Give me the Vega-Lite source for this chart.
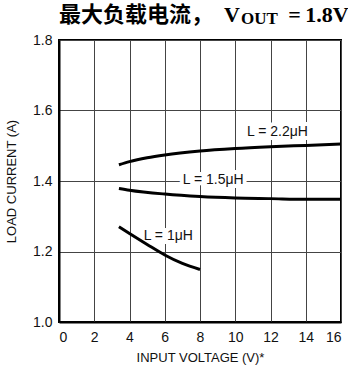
{
  "$schema": "https://vega.github.io/schema/vega-lite/v6.json",
  "width": 282,
  "height": 282,
  "autosize": {"type": "none"},
  "padding": {"left": 59, "top": 40, "right": 7, "bottom": 51},
  "background": "white",
  "config": {
    "view": {"stroke": "black", "strokeWidth": 2},
    "font": "Liberation Sans",
    "axis": {
      "ticks": false,
      "domainColor": "black",
      "domainWidth": 2,
      "gridColor": "#444",
      "gridWidth": 1,
      "gridOpacity": 1,
      "labelOverlap": false,
      "labelFont": "Liberation Sans",
      "labelFontSize": 14,
      "labelColor": "#111",
      "titleFont": "Liberation Sans",
      "titleFontSize": 13,
      "titleFontWeight": "normal",
      "titleColor": "#111"
    }
  },
  "title": {
    "text": "最大负载电流，\u2002V\u2003\u2003\u2009=\u20091.8V",
    "subtitle": "\u200b\u2003\u2003\u2003\u2003\u2003\u2003\u2003\u2003\u2003\u2003\u2002\u2009OUT",
    "anchor": "start",
    "frame": "group",
    "font": "Liberation Serif, Noto Sans CJK SC",
    "fontSize": 22,
    "fontWeight": "bold",
    "color": "black",
    "subtitleFont": "Liberation Serif",
    "subtitleFontSize": 17,
    "subtitleFontWeight": "bold",
    "subtitleColor": "black",
    "subtitlePadding": -16,
    "offset": 5
  },
  "datasets": {
    "curves": [
      {"L": "2.2", "v": 3.4, "i": 1.446},
      {"L": "2.2", "v": 4, "i": 1.455},
      {"L": "2.2", "v": 5, "i": 1.466},
      {"L": "2.2", "v": 6, "i": 1.474},
      {"L": "2.2", "v": 8, "i": 1.485},
      {"L": "2.2", "v": 10, "i": 1.492},
      {"L": "2.2", "v": 12, "i": 1.497},
      {"L": "2.2", "v": 14, "i": 1.501},
      {"L": "2.2", "v": 16, "i": 1.505},
      {"L": "1.5", "v": 3.4, "i": 1.379},
      {"L": "1.5", "v": 4, "i": 1.374},
      {"L": "1.5", "v": 6, "i": 1.363},
      {"L": "1.5", "v": 8, "i": 1.356},
      {"L": "1.5", "v": 10, "i": 1.352},
      {"L": "1.5", "v": 12, "i": 1.35},
      {"L": "1.5", "v": 14, "i": 1.348},
      {"L": "1.5", "v": 16, "i": 1.348},
      {"L": "1", "v": 3.4, "i": 1.27},
      {"L": "1", "v": 4, "i": 1.251},
      {"L": "1", "v": 5, "i": 1.22},
      {"L": "1", "v": 6, "i": 1.19},
      {"L": "1", "v": 7, "i": 1.166},
      {"L": "1", "v": 8, "i": 1.149}
    ],
    "labels": [
      {"text": "L = 2.2μH", "v": 12.4, "i": 1.538},
      {"text": "L = 1.5μH", "v": 8.75, "i": 1.402},
      {"text": "L = 1μH", "v": 6.2, "i": 1.243}
    ]
  },
  "encoding": {
    "x": {"field": "v", "type": "quantitative", "scale": {"domain": [0, 16], "nice": false},
          "axis": {"values": [0, 2, 4, 6, 8, 10, 12, 14, 16], "title": "INPUT VOLTAGE (V)*", "labelPadding": 8, "titlePadding": 7}},
    "y": {"field": "i", "type": "quantitative", "scale": {"domain": [1, 1.8], "nice": false, "zero": false},
          "axis": {"values": [1, 1.2, 1.4, 1.6, 1.8], "format": ".1f", "title": "LOAD CURRENT (A)", "labelPadding": 7, "titlePadding": 14}}
  },
  "layer": [
    {
      "data": {"name": "labels"},
      "mark": {"type": "text", "font": "Liberation Sans", "fontSize": 14, "fill": "white", "stroke": "white", "strokeWidth": 8, "align": "center", "baseline": "middle"},
      "encoding": {"text": {"field": "text"}}
    },
    {
      "data": {"name": "curves"},
      "mark": {"type": "line", "interpolate": "monotone", "strokeWidth": 3, "color": "black", "strokeCap": "butt"},
      "encoding": {"detail": {"field": "L"}}
    },
    {
      "data": {"name": "labels"},
      "mark": {"type": "text", "font": "Liberation Sans", "fontSize": 14, "color": "#111", "align": "center", "baseline": "middle"},
      "encoding": {"text": {"field": "text"}}
    }
  ]
}
